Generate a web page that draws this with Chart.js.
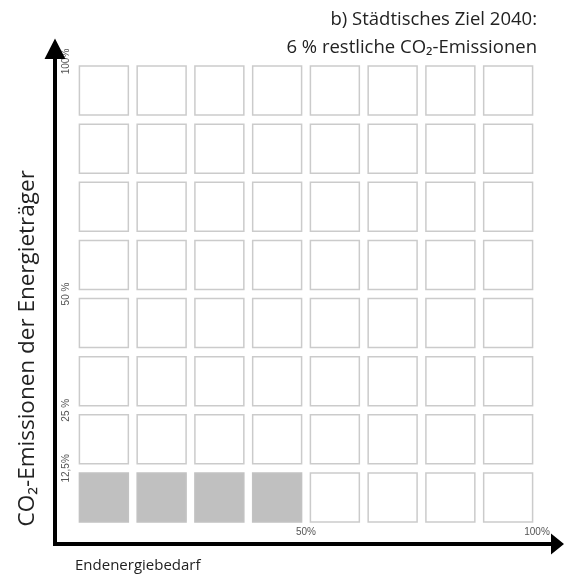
<!DOCTYPE html>
<html>
<head>
<meta charset="utf-8">
<script src="https://cdn.jsdelivr.net/npm/chart.js@4.4.1/dist/chart.umd.min.js"></script>
<style>
  html, body { margin: 0; padding: 0; background: #fff; }
  #wrap { width: 564px; height: 577px; }
</style>
</head>
<body>
<div id="wrap"><canvas id="gridChart"></canvas></div>
<script>
// centre of each 12.5 % step on both axes
const xCells = [6.25, 18.75, 31.25, 43.75, 56.25, 68.75, 81.25, 93.75];
const yCells = [6.25, 18.75, 31.25, 43.75, 56.25, 68.75, 81.25, 93.75];
// filled cells per row, bottom row first (4 of 64 cells = ~6 %)
const filledPerRow = [4, 0, 0, 0, 0, 0, 0, 0];

const xTickValues = [50, 100];
const xTickLabels = ['50%', '100%'];
const yTickValues = [12.5, 25, 50, 100];
const yTickLabels = ['12,5%', '25 %', '50 %', '100%'];

const titleLines = ['b) Städtisches Ziel 2040:', '6 % restliche CO₂-Emissionen'];
const xTitle = 'Endenergiebedarf';
const yTitle = 'CO₂-Emissionen der Energieträger';

// split the grid into empty and filled cells
const emptyCells = [];
const filledCells = [];
yCells.forEach((y, r) => {
    xCells.forEach((x, c) => {
        (c < filledPerRow[r] ? filledCells : emptyCells).push({ x: x, y: y });
    });
});

// black axis lines with arrow heads, placed outside the plot area
const axisArrows = {
    id: 'axisArrows',
    afterDraw(chart) {
        const { ctx, chartArea: a } = chart;
        const ax = a.left - 20;
        const ay = a.bottom + 17.5;
        const right = chart.width;
        ctx.save();
        ctx.strokeStyle = '#000';
        ctx.fillStyle = '#000';
        ctx.lineWidth = 4;
        ctx.beginPath();
        ctx.moveTo(ax, ay + 2);
        ctx.lineTo(ax, a.top - 4);
        ctx.moveTo(ax - 2, ay);
        ctx.lineTo(right - 12, ay);
        ctx.stroke();
        ctx.beginPath();
        ctx.moveTo(ax, a.top - 23);
        ctx.lineTo(ax - 10.5, a.top - 2.5);
        ctx.lineTo(ax + 10.5, a.top - 2.5);
        ctx.closePath();
        ctx.moveTo(right, ay);
        ctx.lineTo(right - 13, ay - 10.5);
        ctx.lineTo(right - 13, ay + 10.5);
        ctx.closePath();
        ctx.fill();
        ctx.restore();
    }
};

Chart.defaults.font.family = "'Open Sans', sans-serif";

const gridChart = new Chart(
    document.getElementById('gridChart').getContext('2d'),
    {
        type: 'scatter',
        data: {
            datasets: [
                {
                    label: 'leer',
                    data: emptyCells,
                    pointStyle: 'rect',
                    pointRadius: 34.6,
                    pointHoverRadius: 34.6,
                    borderWidth: 1.5,
                    borderColor: '#cbcbcb',
                    backgroundColor: '#fff'
                },
                {
                    label: 'Emissionen',
                    data: filledCells,
                    pointStyle: 'rect',
                    pointRadius: 34.6,
                    pointHoverRadius: 34.6,
                    borderWidth: 1.5,
                    borderColor: '#c2c2c2',
                    backgroundColor: '#c0c0c0'
                }
            ]
        },
        options: {
            responsive: true,
            maintainAspectRatio: false,
            animation: false,
            events: [],
            layout: { autoPadding: false, padding: { top: 6, right: 27, bottom: 0, left: 0 } },
            plugins: {
                legend: { display: false },
                tooltip: { enabled: false },
                title: {
                    display: true,
                    text: titleLines,
                    align: 'end',
                    color: '#222',
                    font: { size: 18.5, weight: 'normal', lineHeight: 1.486 },
                    padding: { top: 0, bottom: 0.5 }
                }
            },
            scales: {
                x: {
                    type: 'linear',
                    min: 0,
                    max: 100,
                    grid: { display: false, drawTicks: false },
                    border: { display: false },
                    afterBuildTicks: s => { s.ticks = xTickValues.map(v => ({ value: v })); },
                    afterFit: s => { s.height = 50.5; s.paddingLeft = 0; s.paddingRight = 0; },
                    ticks: {
                        autoSkip: false,
                        maxRotation: 0,
                        padding: 0,
                        color: '#555',
                        font: { family: "'Liberation Sans', sans-serif", size: 10 },
                        callback: (v, i) => xTickLabels[i]
                    },
                    title: {
                        display: true,
                        text: xTitle,
                        align: 'start',
                        color: '#222',
                        font: { size: 15 },
                        padding: { top: 0, bottom: 2 }
                    }
                },
                y: {
                    type: 'linear',
                    min: 0,
                    max: 100,
                    grid: { display: false, drawTicks: false },
                    border: { display: false },
                    afterBuildTicks: s => { s.ticks = yTickValues.map(v => ({ value: v })); },
                    afterFit: s => { s.width = 75; s.paddingTop = 0; s.paddingBottom = 0; },
                    ticks: {
                        autoSkip: false,
                        minRotation: 90,
                        maxRotation: 90,
                        crossAlign: 'center',
                        padding: -5,
                        color: '#555',
                        font: { family: "'Liberation Sans', sans-serif", size: 10 },
                        callback: (v, i) => yTickLabels[i]
                    },
                    title: {
                        display: true,
                        text: yTitle,
                        align: 'start',
                        color: '#222',
                        font: { size: 22.5 },
                        padding: { top: 14, bottom: 0 }
                    }
                }
            }
        },
        plugins: [axisArrows]
    }
);
</script>
</body>
</html>
